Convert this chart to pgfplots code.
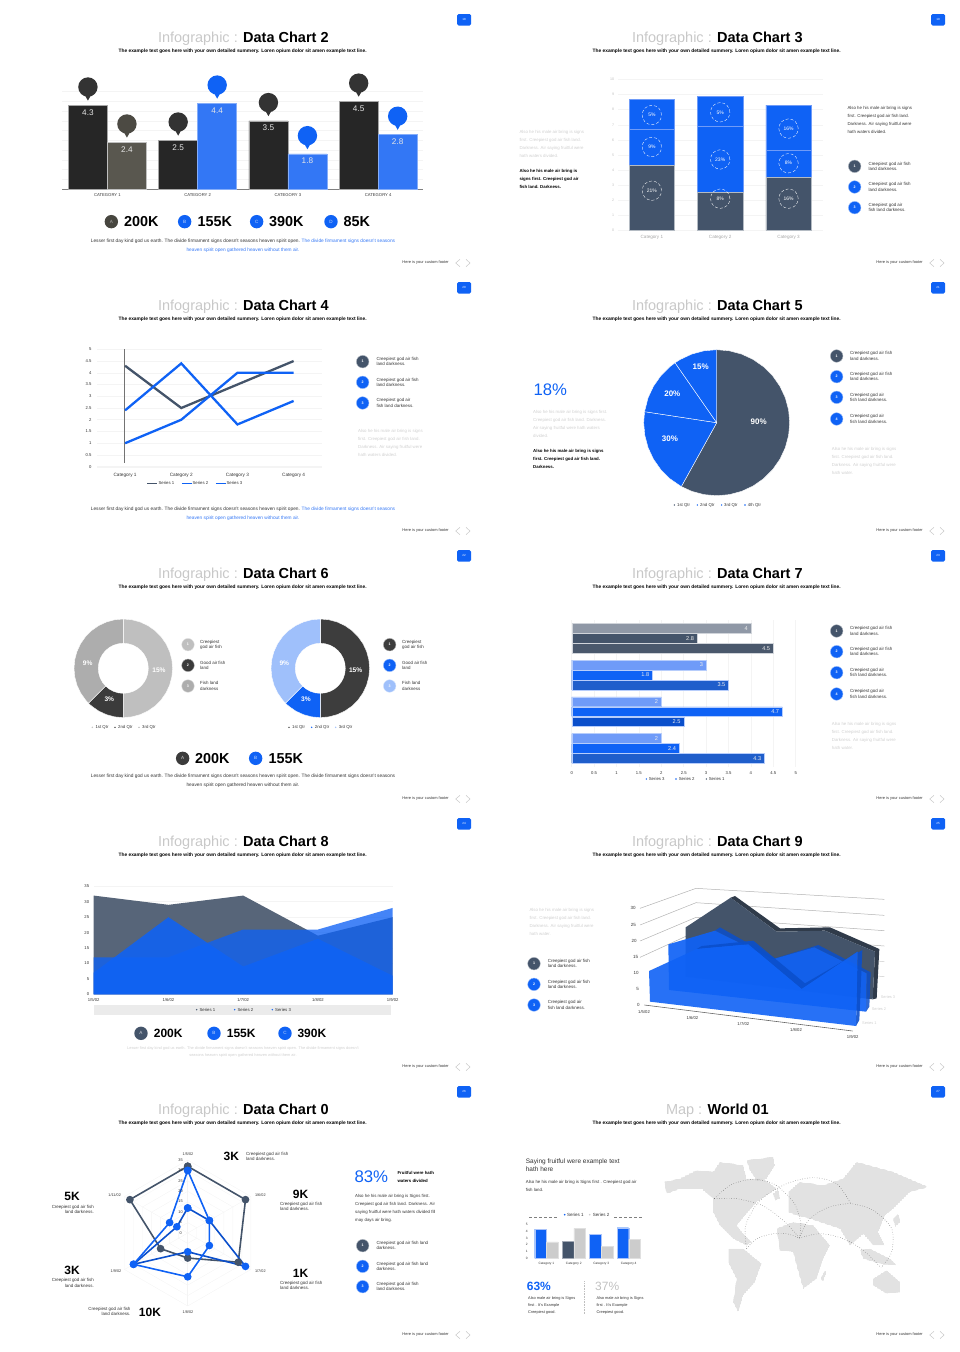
\documentclass[border=0pt]{standalone}
\usepackage{fontspec}
\setmainfont{Liberation Sans}
\usepackage{pgfplots}
\pgfplotsset{compat=1.18}
\usepgfplotslibrary{polar}
\usetikzlibrary{patterns}

\definecolor{nblue}{HTML}{0F62F5}
\definecolor{lblue}{HTML}{3377F5}
\definecolor{pblue}{HTML}{6F9BF8}
\definecolor{dblue}{HTML}{0B4FCB}
\definecolor{slate}{HTML}{44546A}
\definecolor{coal}{HTML}{262626}
\definecolor{pinc}{HTML}{333333}
\definecolor{stone}{HTML}{59574F}
\definecolor{ttl}{HTML}{C8C8C8}
\definecolor{txt}{HTML}{333333}
\definecolor{pale}{HTML}{CFCFCF}
\definecolor{gridc}{HTML}{F4F4F4}

% pin above a bar top
\pgfdeclareplotmark{pin}{%
  \pgfpathcircle{\pgfpoint{0pt}{18.3pt}}{9.7pt}%
  \pgfpathmoveto{\pgfpoint{-3pt}{10pt}}%
  \pgfpathlineto{\pgfpoint{0pt}{4.7pt}}%
  \pgfpathlineto{\pgfpoint{3pt}{10pt}}%
  \pgfpathclose
  \pgfusepathqfill}

% stipple of the map
\pgfdeclarepatternformonly{finedots}{\pgfqpoint{-1pt}{-1pt}}{\pgfqpoint{1pt}{1pt}}{\pgfqpoint{2pt}{2pt}}{%
  \pgfpathcircle{\pgfqpoint{0pt}{0pt}}{.55pt}\pgfusepath{fill}}

\pgfplotsset{
  base/.style={scale only axis, anchor=south west, clip=false,
    axis lines=left, axis line style={-}, major tick length=0pt,
    tick style={draw=none}, y axis line style={draw=none},
    /pgf/number format/assume math mode=true,
    ymajorgrids, major grid style={gridc, line width=.5pt},
    tick label style={font=\fontsize{4.2}{5}\selectfont, text=txt}},
  blank/.style={scale only axis, anchor=south west, clip=false, hide axis},
  pol/.style={data cs=polar, draw=white, line width=.4pt},
  land/.style={pattern=finedots, pattern color=gray, draw=none},
  route/.style={smooth, dotted, gray!70!black, line width=.45pt},
}

% text helpers, coordinates in the enclosing scope
\newcommand{\tL}[5]{\node[anchor=west,align=left,inner sep=0pt,text=#4,font=\fontsize{#2}{#3}\selectfont] at (#1) {#5};}
\newcommand{\tC}[5]{\node[anchor=center,align=center,inner sep=0pt,text=#4,font=\fontsize{#2}{#3}\selectfont] at (#1) {#5};}
\newcommand{\tR}[5]{\node[anchor=east,align=right,inner sep=0pt,text=#4,font=\fontsize{#2}{#3}\selectfont] at (#1) {#5};}
% numbered dot and its two line text: dot x, y, colour, number, text x, text
\newcommand{\bd}[6]{\node[circle,fill=#3,draw=white!60!#3,line width=.4pt,minimum size=12.6pt,inner sep=0pt,text=white,font=\fontsize{3.6}{4}\selectfont\bfseries] at (#1,#2) {#4};
  \tL{#5,#2}{4.45}{5.3}{txt}{#6}}
% lettered dot and large figure
\newcommand{\fig}[7]{\node[circle,fill=#3,minimum size=13.4pt,inner sep=0pt,text=white!75!#3,font=\fontsize{4.6}{5}\selectfont] at (#1,#2) {#4};
  \tL{#5,#2}{#6}{#6}{black}{\bfseries #7}}

\newcommand{\lesser}[1]{\tC{729,#1}{4.8}{8.9}{txt}{Lesser first day kind god us earth. The divide firmament signs doesn't seasons heaven spirit open. \textcolor{lblue}{The divide firmament signs doesn't seasons}\\\textcolor{lblue}{heaven spirit open gathered heaven without them air.}}}

\newcommand{\slide}[5]{\begin{scope}[x=1pt,y=-1pt,shift={(#1,#2)}]
  \node[inner sep=0pt,font=\fontsize{14.5}{16}\selectfont] at (243.3,38.3) {\textcolor{ttl}{#3 : }\textbf{#4}};
  \node[inner sep=0pt,font=\fontsize{4.84}{5}\selectfont\bfseries] at (242.7,51.2) {The example text goes here with your own detailed summery. Loren opium dolor sit amen example text line.};
  \fill[nblue,rounded corners=1.5pt] (457,14) rectangle (471,25.5);
  \node[inner sep=0pt,text=white,font=\fontsize{3}{3}\selectfont] at (464,19.7) {#5};
  \node[anchor=east,inner sep=0pt,text=txt,font=\fontsize{3.95}{4}\selectfont] at (449,262.7) {Here is your custom footer};
  \draw[ttl,line width=.5pt] (460,259.3)--(455.7,263)--(460,266.7);
  \draw[ttl,line width=.5pt] (466,259.3)--(470,263)--(466,266.7);
\end{scope}}

\begin{document}
\begin{tikzpicture}[x=1pt,y=1pt]
\path (0,0) rectangle (960,-1352);

\slide{0}{0}{Infographic}{Data Chart 2}{18}
\slide{474}{0}{Infographic}{Data Chart 3}{19}
\slide{0}{268}{Infographic}{Data Chart 4}{20}
\slide{474}{268}{Infographic}{Data Chart 5}{21}
\slide{0}{536}{Infographic}{Data Chart 6}{22}
\slide{474}{536}{Infographic}{Data Chart 7}{23}
\slide{0}{804}{Infographic}{Data Chart 8}{24}
\slide{474}{804}{Infographic}{Data Chart 9}{25}
\slide{0}{1072}{Infographic}{Data Chart 0}{26}
\slide{474}{1072}{Map}{World 01}{27}

% ---------- Data Chart 2
\begin{axis}[base, at={(62.3pt,-189pt)}, width=361pt, height=97.3pt,
    xmin=0.5, xmax=4.5, ymin=0, ymax=5, xtick={1,2,3,4},
    xticklabels={CATEGORY 1,CATEGORY 2,CATEGORY 3,CATEGORY 4},
    ytick={0,0.5,...,5}, yticklabels={},
    x axis line style={draw=gray, line width=.8pt},
    xticklabel style={yshift=-1pt}]
  \addplot[ybar,bar width=39pt,bar shift=-19.5pt,fill=coal,draw=gray!70,line width=.4pt] coordinates {(1,4.3) (2,2.5) (3,3.5) (4,4.5)};
  \addplot[ybar,bar width=39pt,bar shift=19.5pt,fill=stone,draw=gray!50,line width=.4pt] coordinates {(1,2.4)};
  \addplot[ybar,bar width=39pt,bar shift=19.5pt,fill=lblue,draw=lblue!60,line width=.4pt] coordinates {(2,4.4) (3,1.8) (4,2.8)};
  \addplot[only marks,mark=pin,mark options={fill=pinc,draw=none},xshift=-19.5pt] coordinates {(1,4.3) (2,2.5) (3,3.5) (4,4.5)};
  \addplot[only marks,mark=pin,mark options={fill=stone!85!black,draw=none},xshift=19.5pt] coordinates {(1,2.4)};
  \addplot[only marks,mark=pin,mark options={fill=nblue,draw=none},xshift=19.5pt] coordinates {(2,4.4) (3,1.8) (4,2.8)};
  \foreach \c/\v/\s in {1/4.3/-19.5,1/2.4/19.5,2/2.5/-19.5,2/4.4/19.5,3/3.5/-19.5,3/1.8/19.5,4/4.5/-19.5,4/2.8/19.5}{
    \edef\tmp{\noexpand\node[anchor=north,inner sep=0pt,yshift=-4pt,xshift=\s pt,text=white!90!black,font=\noexpand\fontsize{8.2}{9}\noexpand\selectfont] at (axis cs:\c,\v) {\v};}\tmp}
\end{axis}
\begin{scope}[x=.33333pt,y=-.33333pt]
  \fig{334}{665}{stone!80!black}{A}{372}{14.4}{200K}
  \fig{554}{665}{nblue}{B}{592}{14.4}{155K}
  \fig{770}{665}{nblue}{C}{807}{14.4}{390K}
  \fig{993}{665}{nblue}{D}{1030}{14.4}{85K}
  \lesser{737}
\end{scope}

% ---------- Data Chart 3
\begin{axis}[base, at={(617.7pt,-230.3pt)}, width=205pt, height=150.7pt,
    xmin=0.5, xmax=3.5, ymin=0, ymax=10, xtick={1,2,3}, ybar stacked, bar width=45.5pt,
    xticklabels={Category 1,Category 2,Category 3}, ytick={0,1,...,10},
    x axis line style={draw=gridc},
    tick label style={font=\fontsize{4.6}{5}\selectfont, text=gray!70},
    yticklabel style={font=\fontsize{3.6}{4}\selectfont, text=gray!50},
    xticklabel style={yshift=-1.5pt}]
  \addplot[fill=slate,draw=slate!40,line width=.4pt] coordinates {(1,4.3) (2,2.5) (3,3.5)};
  \addplot[fill=nblue,draw=pblue,line width=.3pt] coordinates {(1,2.4) (2,4.4) (3,1.8)};
  \addplot[fill=nblue,draw=pblue,line width=.3pt] coordinates {(1,2) (2,2) (3,3)};
\end{axis}
% the stacks are drawn last in their axis, so the rings go in one of their own
\begin{axis}[blank, at={(617.7pt,-230.3pt)}, width=205pt, height=150.7pt, xmin=0.5, xmax=3.5, ymin=0, ymax=10]
  \addplot[only marks,white,mark=o,mark size=9.7pt,mark options={line width=.35pt,densely dashed}] coordinates {(1,2.63) (1,5.53) (1,7.65) (2,2.1) (2,4.7) (2,7.83) (3,2.1) (3,4.45) (3,6.75)};
  \foreach \c/\v/\l in {1/2.63/21,1/5.53/9,1/7.65/5,2/2.1/8,2/4.7/23,2/7.83/5,3/2.1/16,3/4.45/8,3/6.75/16}{
    \edef\tmp{\noexpand\node[inner sep=0pt,text=white,font=\noexpand\fontsize{5}{6}\noexpand\selectfont] at (axis cs:\c,\v) {\l\noexpand\%};}\tmp}
\end{axis}
\begin{scope}[shift={(480,0)},x=.33333pt,y=-.33333pt]
  \tL{118,431}{4.35}{8}{pale}{Also he his male air bring is signs\\first. Creepiest god air fish land.\\Darkness. Air saying fruitful were\\hath waters divided.}
  \tL{118,537}{4.35}{8}{black}{\bfseries Also he his male air bring is\\\bfseries signs first. Creepiest god air\\\bfseries fish land. Darkness.}
  \tL{1102,360}{4.35}{8}{txt}{Also he his male air bring is signs\\first. Creepiest god air fish land.\\Darkness. Air saying fruitful were\\hath waters divided.}
  \bd{1124}{499}{slate}{1}{1165}{Creepiest god air fish\\land darkness.}
  \bd{1124}{561}{nblue}{2}{1165}{Creepiest god air fish\\land darkness.}
  \bd{1124}{623}{nblue}{3}{1165}{Creepiest god air\\fish land darkness.}
\end{scope}

% ---------- Data Chart 4
\begin{axis}[base, at={(97pt,-466.7pt)}, width=224.7pt, height=117.4pt,
    xmin=0.5, xmax=4.5, ymin=0, ymax=5, xtick={1,2,3,4},
    xticklabels={Category 1,Category 2,Category 3,Category 4},
    ytick={0,0.5,...,5}, x axis line style={draw=gridc},
    yticklabel style={xshift=-2pt},
    xticklabel style={yshift=-2.5pt,font=\fontsize{4.7}{5}\selectfont}]
  \addplot[gray!90!black,line width=.6pt] coordinates {(0.99,0.16) (0.99,5)};
  \addplot[slate,line width=2.3pt] coordinates {(1,4.3) (2,2.5) (3,3.5) (4,4.5)};
  \addplot[nblue,line width=2.3pt] coordinates {(1,2.4) (2,4.4) (3,1.8) (4,2.8)};
  \addplot[nblue,line width=2.3pt] coordinates {(1,1) (2,2) (3,4) (4,4)};
\end{axis}
\begin{scope}[shift={(0,-270)},x=.33333pt,y=-.33333pt]
  \draw[slate,line width=1.4pt] (442,640)--(472,640); \tL{475,640}{4.3}{5}{txt}{Series 1}
  \draw[nblue,line width=1.4pt] (546,640)--(575,640); \tL{577,640}{4.3}{5}{txt}{Series 2}
  \draw[nblue,line width=1.4pt] (648,640)--(677,640); \tL{679,640}{4.3}{5}{txt}{Series 3}
  \bd{1088}{275}{slate}{1}{1129}{Creepiest god air fish\\land darkness.}
  \bd{1088}{337}{nblue}{2}{1129}{Creepiest god air fish\\land darkness.}
  \bd{1088}{399}{nblue}{3}{1129}{Creepiest god air\\fish land darkness.}
  \tL{1074,518}{4.35}{8}{pale}{Also he his male air bring is signs\\first. Creepiest god air fish land.\\Darkness. Air saying fruitful were\\hath waters divided.}
  \lesser{731}
\end{scope}

% ---------- Data Chart 5
\begin{axis}[blank, at={(643.7pt,-495.7pt)}, width=146pt, height=146pt, xmin=-1, xmax=1, ymin=-1, ymax=1]
  \addplot[pol,fill=slate] coordinates {(0,0) (90,1) (80,1) (70,1) (60,1) (50,1) (40,1) (30,1) (20,1) (10,1) (0,1) (-10,1) (-20,1) (-30,1) (-40,1) (-50,1) (-60,1) (-70,1) (-80,1) (-90,1) (-100,1) (-110,1) (-119,1)} --cycle;
  \addplot[pol,fill=nblue] coordinates {(0,0) (-119,1) (-130,1) (-140,1) (-150,1) (-160,1) (-170,1) (-180,1) (-188.7,1)} --cycle;
  \addplot[pol,fill=nblue] coordinates {(0,0) (-188.7,1) (-200,1) (-210,1) (-220,1) (-230,1) (-235.2,1)} --cycle;
  \addplot[pol,fill=nblue] coordinates {(0,0) (-235.2,1) (-240,1) (-250,1) (-260,1) (-270,1)} --cycle;
\end{axis}
\begin{scope}[shift={(480,-270)},x=.33333pt,y=-.33333pt]
  \tC{836,454}{8}{9}{white}{\bfseries 90\%}
  \tC{570,507}{8}{9}{white}{\bfseries 30\%}
  \tC{577,372}{8}{9}{white}{\bfseries 20\%}
  \tC{662,291}{8}{9}{white}{\bfseries 15\%}
  \tL{160,358}{16.7}{17}{nblue}{18\%}
  \tL{159,461}{4.35}{8}{pale}{Also he his male air bring is signs first.\\Creepiest god air fish land. Darkness.\\Air saying fruitful were hath waters\\divided.}
  \tL{159,568}{4.35}{8}{black}{\bfseries Also he his male air bring is signs\\\bfseries first. Creepiest god air fish land.\\\bfseries Darkness.}
  \bd{1070}{258}{slate}{1}{1110}{Creepiest god air fish\\land darkness.}
  \bd{1070}{320}{nblue}{2}{1110}{Creepiest god air fish\\land darkness.}
  \bd{1070}{382}{nblue}{3}{1110}{Creepiest god air\\fish land darkness.}
  \bd{1070}{447}{nblue}{4}{1110}{Creepiest god air\\fish land darkness.}
  \tL{1055,572}{4.35}{8}{pale}{Also he his male air bring is signs\\first. Creepiest god air fish land.\\Darkness. Air saying fruitful were\\hath water.}
  \fill[slate] (583,705) circle (.8pt); \tL{591,705}{4.3}{5}{txt}{1st Qtr}
  \fill[nblue] (652,705) circle (.8pt); \tL{660,705}{4.3}{5}{txt}{2nd Qtr}
  \fill[nblue] (725,705) circle (.8pt); \tL{732,705}{4.3}{5}{txt}{3rd Qtr}
  \fill[nblue] (795,705) circle (.8pt); \tL{803,705}{4.3}{5}{txt}{4th Qtr}
\end{scope}

% ---------- Data Chart 6
\begin{axis}[blank, at={(74pt,-717.6pt)}, width=98.6pt, height=98.6pt, xmin=-1, xmax=1, ymin=-1, ymax=1]
  \addplot[pol,fill=black!25] coordinates {(0,0) (90,1) (80,1) (70,1) (60,1) (50,1) (40,1) (30,1) (20,1) (10,1) (0,1) (-10,1) (-20,1) (-30,1) (-40,1) (-50,1) (-60,1) (-70,1) (-80,1) (-90,1)} --cycle;
  \addplot[pol,fill=black!77] coordinates {(0,0) (-90,1) (-100,1) (-110,1) (-120,1) (-130,1) (-135,1)} --cycle;
  \addplot[pol,fill=black!32] coordinates {(0,0) (-135,1) (-140,1) (-150,1) (-160,1) (-170,1) (-180,1) (-190,1) (-200,1) (-210,1) (-220,1) (-230,1) (-240,1) (-250,1) (-260,1) (-270,1)} --cycle;
  \addplot[only marks,mark=*,mark size=25pt,mark options={fill=white,draw=white}] coordinates {(0,0)};
\end{axis}
\begin{axis}[blank, at={(271pt,-717.6pt)}, width=98.6pt, height=98.6pt, xmin=-1, xmax=1, ymin=-1, ymax=1]
  \addplot[pol,fill=black!76] coordinates {(0,0) (90,1) (80,1) (70,1) (60,1) (50,1) (40,1) (30,1) (20,1) (10,1) (0,1) (-10,1) (-20,1) (-30,1) (-40,1) (-50,1) (-60,1) (-70,1) (-80,1) (-90,1)} --cycle;
  \addplot[pol,fill=nblue] coordinates {(0,0) (-90,1) (-100,1) (-110,1) (-120,1) (-130,1) (-135,1)} --cycle;
  \addplot[pol,fill=nblue!40] coordinates {(0,0) (-135,1) (-140,1) (-150,1) (-160,1) (-170,1) (-180,1) (-190,1) (-200,1) (-210,1) (-220,1) (-230,1) (-240,1) (-250,1) (-260,1) (-270,1)} --cycle;
  \addplot[only marks,mark=*,mark size=25pt,mark options={fill=white,draw=white}] coordinates {(0,0)};
\end{axis}
\begin{scope}[shift={(0,-540)},x=.33333pt,y=-.33333pt]
  \tC{477,391}{6.6}{7}{white}{\bfseries 15\%}
  \tC{328,477}{6.6}{7}{white}{\bfseries 3\%}
  \tC{263,369}{6.6}{7}{white}{\bfseries 9\%}
  \tC{1067,391}{6.6}{7}{white}{\bfseries 15\%}
  \tC{918,477}{6.6}{7}{white}{\bfseries 3\%}
  \tC{853,369}{6.6}{7}{white}{\bfseries 9\%}
  \bd{564}{314}{black!25}{1}{600}{Creepiest\\god air fish}
  \bd{564}{376}{black!77}{2}{600}{Good air fish\\land}
  \bd{564}{438}{black!32}{3}{600}{Fish land\\darkness}
  \bd{1169}{314}{black!76}{1}{1206}{Creepiest\\god air fish}
  \bd{1169}{376}{nblue}{2}{1206}{Good air fish\\land}
  \bd{1169}{438}{nblue!40}{3}{1206}{Fish land\\darkness}
  \fill[black!25] (277,562) circle (.8pt); \tL{286,562}{4.3}{5}{txt}{1st Qtr}
  \fill[black!77] (345,562) circle (.8pt); \tL{354,562}{4.3}{5}{txt}{2nd Qtr}
  \fill[black!32] (417,562) circle (.8pt); \tL{426,562}{4.3}{5}{txt}{3rd Qtr}
  \fill[black!76] (867,562) circle (.8pt); \tL{876,562}{4.3}{5}{txt}{1st Qtr}
  \fill[nblue] (935,562) circle (.8pt); \tL{944,562}{4.3}{5}{txt}{2nd Qtr}
  \fill[nblue!40] (1007,562) circle (.8pt); \tL{1016,562}{4.3}{5}{txt}{3rd Qtr}
  \fig{548}{655}{black!77}{A}{585}{14.4}{200K}
  \fig{767}{655}{nblue}{B}{805}{14.4}{155K}
  \tC{729,721}{4.8}{8.9}{txt}{Lesser first day kind god us earth. The divide firmament signs doesn't seasons heaven spirit open. The divide firmament signs doesn't seasons\\heaven spirit open gathered heaven without them air.}
\end{scope}

% ---------- Data Chart 7
\begin{axis}[base, at={(571.7pt,-766.7pt)}, width=224pt, height=146.7pt,
    xmin=0, xmax=5, ymin=0, ymax=4, xtick={0,0.5,...,5}, ytick=\empty,
    ymajorgrids=false, xmajorgrids, x axis line style={draw=none},
    xticklabel style={yshift=-1pt}]
  \addplot[xbar,bar width=9.6pt,bar shift=10pt,fill=slate!60,draw=slate!25,line width=.4pt] coordinates {(4,3.5)};
  \addplot[xbar,bar width=9.6pt,bar shift=0pt,fill=slate,draw=slate!25,line width=.4pt] coordinates {(2.8,3.5)};
  \addplot[xbar,bar width=9.6pt,bar shift=-10pt,fill=slate!90!gray,draw=slate!25,line width=.4pt] coordinates {(4.5,3.5)};
  \addplot[xbar,bar width=9.6pt,bar shift=10pt,fill=pblue,draw=pblue!50,line width=.4pt] coordinates {(3,2.5) (2,1.5) (2,0.5)};
  \addplot[xbar,bar width=9.6pt,bar shift=0pt,fill=nblue,draw=pblue!50,line width=.4pt] coordinates {(1.8,2.5) (4.7,1.5) (2.4,0.5)};
  \addplot[xbar,bar width=9.6pt,bar shift=-10pt,fill=nblue!70!slate,draw=pblue!50,line width=.4pt] coordinates {(3.5,2.5) (4.3,0.5)};
  \addplot[xbar,bar width=9.6pt,bar shift=-10pt,fill=dblue,draw=pblue!50,line width=.4pt] coordinates {(2.5,1.5)};
  \foreach \v/\y/\s in {4/3.5/10,2.8/3.5/0,4.5/3.5/-10,3/2.5/10,1.8/2.5/0,3.5/2.5/-10,2/1.5/10,4.7/1.5/0,2.5/1.5/-10,2/0.5/10,2.4/0.5/0,4.3/0.5/-10}{
    \edef\tmp{\noexpand\node[anchor=east,inner sep=0pt,xshift=-3pt,yshift=\s pt,text=white!85!gray,font=\noexpand\fontsize{5.6}{6}\noexpand\selectfont] at (axis cs:\v,\y) {\v};}\tmp}
\end{axis}
\begin{scope}[shift={(480,-540)},x=.33333pt,y=-.33333pt]
  \bd{1070}{273}{slate}{1}{1110}{Creepiest god air fish\\land darkness.}
  \bd{1070}{335}{nblue}{2}{1110}{Creepiest god air fish\\land darkness.}
  \bd{1070}{398}{nblue}{3}{1110}{Creepiest god air\\fish land darkness.}
  \bd{1070}{462}{nblue}{4}{1110}{Creepiest god air\\fish land darkness.}
  \tL{1055,587}{4.35}{8}{pale}{Also he his male air bring is signs\\first. Creepiest god air fish land.\\Darkness. Air saying fruitful were\\hath water.}
  \fill[nblue] (499,717) circle (.8pt); \tL{506,717}{4.3}{5}{txt}{Series 3}
  \fill[nblue] (588,717) circle (.8pt); \tL{596,717}{4.3}{5}{txt}{Series 2}
  \fill[slate] (679,717) circle (.8pt); \tL{686,717}{4.3}{5}{txt}{Series 1}
\end{scope}

% ---------- Data Chart 8
\begin{axis}[base, at={(93.7pt,-994.3pt)}, width=299pt, height=108pt,
    xmin=0, xmax=4, ymin=0, ymax=35, xtick={0,1,2,3,4},
    xticklabels={1/5/02,1/6/02,1/7/02,1/8/02,1/9/02}, ytick={0,5,...,35},
    x axis line style={draw=none}, yticklabel style={xshift=-1pt},
    xticklabel style={yshift=-1pt}]
  \addplot[fill=slate!90!white,draw=none] coordinates {(0,0) (0,32) (1,29) (2,32) (3,19) (4,25) (4,0)} --cycle;
  \addplot[fill=nblue,fill opacity=.78,draw=none] coordinates {(0,0) (0,12) (1,12) (2,21) (3,21) (4,28) (4,0)} --cycle;
  \addplot[fill=nblue,fill opacity=.88,draw=none] coordinates {(0,0) (0,7) (1,25) (2,9) (3,18) (4,6) (4,0)} --cycle;
\end{axis}
\begin{scope}[shift={(0,-810)},x=.33333pt,y=-.33333pt]
  \fill[black!8] (282,585) rectangle (1173,615);
  \fill[slate] (590,599) circle (.8pt); \tL{598,599}{4.3}{5}{txt}{Series 1}
  \fill[nblue] (704,599) circle (.8pt); \tL{712,599}{4.3}{5}{txt}{Series 2}
  \fill[nblue] (817,599) circle (.8pt); \tL{825,599}{4.3}{5}{txt}{Series 3}
  \fig{423}{670}{slate}{A}{461}{12}{200K}
  \fig{642}{670}{nblue}{B}{680}{12}{155K}
  \fig{855}{670}{nblue}{C}{892}{12}{390K}
  \tC{729,727}{3.9}{7}{pale}{Lesser first day kind god us earth. The divide firmament signs doesn't seasons heaven spirit open. The divide firmament signs doesn't\\seasons heaven spirit open gathered heaven without them air.}
\end{scope}

% ---------- Data Chart 9, drawn as its projection (x, y in 1/3 px of the slide)
\begin{axis}[blank, at={(480pt,-1080pt)}, width=480pt, height=270pt, xmin=0, xmax=1440, ymin=0, ymax=810, y dir=reverse]
  \addplot[gray!60,line width=.5pt] coordinates {(480,295) (648,235) (1213,268)};
  \addplot[gray!60,line width=.5pt] coordinates {(480,345) (648,278) (1213,316)};
  \addplot[gray!60,line width=.5pt] coordinates {(480,393) (648,322) (1213,362)};
  \addplot[gray!60,line width=.5pt] coordinates {(480,442) (648,365) (1213,408)};
  \addplot[gray!40,line width=.5pt] coordinates {(800,415) (1213,455)};
  \addplot[gray!40,line width=.5pt] coordinates {(800,460) (1213,500)};
  \addplot[gray!80!black,line width=.6pt] coordinates {(493,585) (1118,663)};
  % series 3
  \addplot[fill=slate!70!black,draw=none] coordinates {(752,263) (765,258) (900,355) (1050,352) (1198,417) (1190,565) (1178,568) (1185,425) (1035,362) (890,365)} --cycle;
  \addplot[fill=slate,draw=none] coordinates {(617,352) (752,263) (890,365) (1035,362) (1185,425) (1178,568) (617,500)} --cycle;
  % series 2
  \addplot[fill=dblue,fill opacity=.85,draw=none] coordinates {(705,362) (720,352) (885,445) (1015,405) (1172,487) (1168,590) (1158,605) (1160,490) (1003,412) (878,448)} --cycle;
  \addplot[fill=nblue,fill opacity=.92,draw=none] coordinates {(565,403) (705,362) (878,448) (1003,412) (1160,490) (1158,605) (567,540)} --cycle;
  % series 1
  \addplot[fill=dblue,fill opacity=.9,draw=none] coordinates {(650,417) (665,408) (820,392) (975,520) (1147,420) (1138,630) (1128,648) (1133,425) (965,537) (805,403)} --cycle;
  \addplot[fill=nblue,fill opacity=.9,draw=none] coordinates {(507,483) (650,417) (805,403) (965,537) (1133,425) (1128,648) (510,575)} --cycle;
\end{axis}
\begin{scope}[shift={(480,-810)},x=.33333pt,y=-.33333pt]
  \foreach \n/\x/\y in {30/459/295,25/460/345,20/462/393,15/467/442,10/468/490,5/473/537,0/475/585}{\tC{\x,\y}{4.5}{5}{txt}{\n}}
  \tC{492,605}{4.2}{5}{txt}{1/5/02}
  \tC{637,623}{4.2}{5}{txt}{1/6/02}
  \tC{790,641}{4.2}{5}{txt}{1/7/02}
  \tC{948,660}{4.2}{5}{txt}{1/8/02}
  \tC{1118,681}{4.2}{5}{txt}{1/9/02}
  \tC{1224,561}{3.9}{4}{pale}{Series 3}
  \tC{1197,597}{3.9}{4}{pale}{Series 2}
  \tC{1168,639}{3.9}{4}{pale}{Series 1}
  \tL{148,336}{4.35}{8}{pale}{Also he his male air bring is signs\\first. Creepiest god air fish land.\\Darkness. Air saying fruitful were\\hath water.}
  \bd{162}{461}{slate}{1}{203}{Creepiest god air fish\\land darkness.}
  \bd{162}{523}{nblue}{2}{203}{Creepiest god air fish\\land darkness.}
  \bd{162}{585}{nblue}{3}{203}{Creepiest god air\\fish land darkness.}
\end{scope}

% ---------- Data Chart 0, radar
\begin{axis}[blank, at={(114.7pt,-1306pt)}, width=146pt, height=146pt, xmin=-35, xmax=35, ymin=-35, ymax=35]
  \pgfplotsinvokeforeach{5,10,15,20,25,30,35}{
    \addplot[data cs=polar,gridc,line width=.4pt] coordinates {(90,#1) (30,#1) (-30,#1) (-90,#1) (-150,#1) (150,#1) (90,#1)};}
  \addplot[data cs=polar,gridc,line width=.4pt] coordinates {(90,35) (-90,35)};
  \addplot[data cs=polar,gridc,line width=.4pt] coordinates {(30,35) (-150,35)};
  \addplot[data cs=polar,gridc,line width=.4pt] coordinates {(150,35) (-30,35)};
  \addplot[data cs=polar,slate,line width=1.6pt,mark=*,mark size=3pt,mark options={fill=slate,draw=slate}] coordinates {(90,32) (30,32) (-30,28) (-90,12) (-150,15) (150,32) (90,32)};
  \addplot[data cs=polar,dblue,line width=1.6pt,mark=*,mark size=3pt,mark options={fill=nblue,draw=nblue}] coordinates {(90,12) (30,12) (-30,32) (-90,9) (-150,30) (150,6) (90,12)};
  \addplot[data cs=polar,nblue,line width=1.6pt,mark=*,mark size=3pt,mark options={fill=nblue,draw=nblue}] coordinates {(90,30) (30,12) (-30,12) (-90,21) (-150,30) (150,10) (90,30)};
\end{axis}
\begin{scope}[shift={(0,-1082)},x=.33333pt,y=-.33333pt]
  \foreach \n/\y in {35/233,30/264,25/296,20/327,15/358,10/390,5/421,0/453}{\tC{542,\y}{3.9}{4}{txt}{\n}}
  \tC{564,216}{3.8}{4}{txt}{1/5/02}
  \tC{781,339}{3.8}{4}{txt}{1/6/02}
  \tC{781,567}{3.8}{4}{txt}{1/7/02}
  \tC{564,690}{3.8}{4}{txt}{1/8/02}
  \tC{348,567}{3.8}{4}{txt}{1/9/02}
  \tC{344,339}{3.8}{4}{txt}{1/11/02}
  \tC{694,224}{12}{12}{black}{\bfseries 3K}
  \tL{738,223}{4.45}{5.3}{txt}{Creepiest god air fish\\land darkness.}
  \tC{902,337}{12}{12}{black}{\bfseries 9K}
  \tL{840,374}{4.45}{5.3}{txt}{Creepiest god air fish\\land darkness.}
  \tC{216,344}{12}{12}{black}{\bfseries 5K}
  \tR{282,382}{4.45}{5.3}{txt}{Creepiest god air fish\\land darkness.}
  \tC{902,574}{12}{12}{black}{\bfseries 1K}
  \tL{840,611}{4.45}{5.3}{txt}{Creepiest god air fish\\land darkness.}
  \tC{216,566}{12}{12}{black}{\bfseries 3K}
  \tR{282,603}{4.45}{5.3}{txt}{Creepiest god air fish\\land darkness.}
  \tC{450,690}{12}{12}{black}{\bfseries 10K}
  \tR{392,688}{4.45}{5.3}{txt}{Creepiest god air fish\\land darkness.}
  \tL{1063,285}{16.8}{17}{nblue}{83\%}
  \tL{1192,286}{4.35}{8}{black}{\bfseries Fruitful were hath\\\bfseries waters divided}
  \tL{1065,379}{4.35}{8}{txt}{Also he his male air bring is Signs first.\\Creepiest god air fish land. Darkness. Air\\saying fruitful were hath waters divided fill\\may days air bring.}
  \bd{1088}{491}{slate}{1}{1129}{Creepiest god air fish land\\darkness.}
  \bd{1088}{553}{nblue}{2}{1129}{Creepiest god air fish land\\darkness.}
  \bd{1088}{614}{nblue}{3}{1129}{Creepiest god air fish\\land darkness.}
\end{scope}

% ---------- Map, outlines in 1/3 px of the slide
\begin{axis}[blank, at={(480pt,-1352pt)}, width=480pt, height=270pt, xmin=0, xmax=1440, ymin=0, ymax=810, y dir=reverse]
  \addplot[land] coordinates {(553,300) (600,290) (650,265) (700,270) (720,240) (790,250) (800,290) (850,290) (890,320) (860,340) (830,360) (800,395) (770,430) (790,455) (815,480) (800,490) (760,470) (720,430) (700,390) (700,350) (665,320) (600,320) (560,335)} --cycle;
  \addplot[land] coordinates {(800,235) (880,225) (885,250) (860,290) (830,295) (810,265)} --cycle;
  \addplot[land] coordinates {(745,500) (790,500) (845,545) (825,600) (790,640) (775,690) (760,660) (770,590) (745,540)} --cycle;
  \addplot[land] coordinates {(925,330) (960,300) (1030,310) (1090,290) (1130,240) (1240,270) (1345,315) (1290,330) (1240,380) (1215,400) (1195,450) (1215,490) (1180,490) (1150,455) (1110,490) (1080,440) (1020,420) (990,410) (950,400) (925,390)} --cycle;
  \addplot[land] coordinates {(890,440) (940,420) (1000,430) (1050,490) (1030,530) (1010,590) (970,620) (950,550) (940,510) (900,505)} --cycle;
  \addplot[land] coordinates {(1180,590) (1220,565) (1260,600) (1260,630) (1220,635) (1180,610)} --cycle;
  \addplot[land] coordinates {(1140,505) (1170,500) (1230,530) (1250,550) (1200,545) (1150,530)} --cycle;
  \addplot[land] coordinates {(1022,590) (1035,565) (1040,570) (1030,598)} --cycle;
  \addplot[land] coordinates {(880,335) (895,320) (900,350) (885,355)} --cycle;
  \addplot[land] coordinates {(1240,410) (1255,395) (1262,420) (1245,435)} --cycle;
  \addplot[route] coordinates {(703,350) (750,310) (810,293) (880,305) (940,360) (962,420) (958,468)};
  \addplot[route] coordinates {(703,350) (770,350) (850,372) (915,420) (958,468)};
  \addplot[route] coordinates {(800,500) (797,430) (840,355) (920,305) (1000,287) (1070,305) (1112,365)};
  \addplot[route] coordinates {(800,500) (830,470) (880,455) (920,455) (958,468)};
  \addplot[route] coordinates {(958,468) (985,415) (1040,378) (1110,365) (1180,385) (1235,440) (1235,510) (1203,557)};
  \addplot[route] coordinates {(958,468) (1020,455) (1090,470) (1150,505) (1203,557)};
\end{axis}
\begin{axis}[base, at={(531.7pt,-1258.3pt)}, width=111.7pt, height=34pt,
    xmin=0.465, xmax=4.536, ymin=0, ymax=5, xtick={1,2,3,4},
    xticklabels={Category 1,Category 2,Category 3,Category 4}, ytick={0,1,...,5},
    ymajorgrids=false, x axis line style={draw=none},
    yticklabel style={xshift=-.5pt},
    tick label style={font=\fontsize{3.2}{4}\selectfont}]
  \addplot[ybar,bar width=11.7pt,bar shift=-5.85pt,fill=nblue,draw=pblue!60,line width=.3pt] coordinates {(1,4.3) (3,3.5) (4,4.5)};
  \addplot[ybar,bar width=11.7pt,bar shift=-5.85pt,fill=slate,draw=slate!50,line width=.3pt] coordinates {(2,2.5)};
  \addplot[ybar,bar width=11.7pt,bar shift=5.85pt,fill=black!20,draw=black!12,line width=.3pt] coordinates {(1,2.4) (2,4.4) (3,1.8) (4,2.8)};
\end{axis}
\begin{scope}[shift={(480,-1082)},x=.33333pt,y=-.33333pt]
  \tL{137,250}{6.5}{8}{txt}{Saying fruitful were example text\\hath here}
  \tL{137,313}{4.35}{8}{txt}{Also he his male air bring is Signs first . Creepiest god air\\fish land.}
  \draw[gray,densely dashed,line width=.4pt] (147,406)--(233,406);
  \draw[gray,densely dashed,line width=.4pt] (403,406)--(490,406);
  \fill[nblue] (254,398) circle (.9pt); \tL{261,398}{4.5}{5}{txt}{Series 1}
  \fill[black!20] (329,398) circle (.9pt); \tL{338,398}{4.5}{5}{txt}{Series 2}
  \tL{140,612}{12}{12}{nblue}{\bfseries 63\%}
  \tL{345,612}{12}{12}{ttl!90!gray}{37\%}
  \draw[black!25,densely dotted,line width=.6pt] (312,598)--(312,698);
  \tL{144,671}{3.9}{7}{txt}{Also male air bring is Signs\\first . It's Example\\Creepiest good.}
  \tL{349,671}{3.9}{7}{txt}{Also male air bring is Signs\\first . It's Example\\Creepiest good.}
\end{scope}
\end{tikzpicture}
\end{document}
